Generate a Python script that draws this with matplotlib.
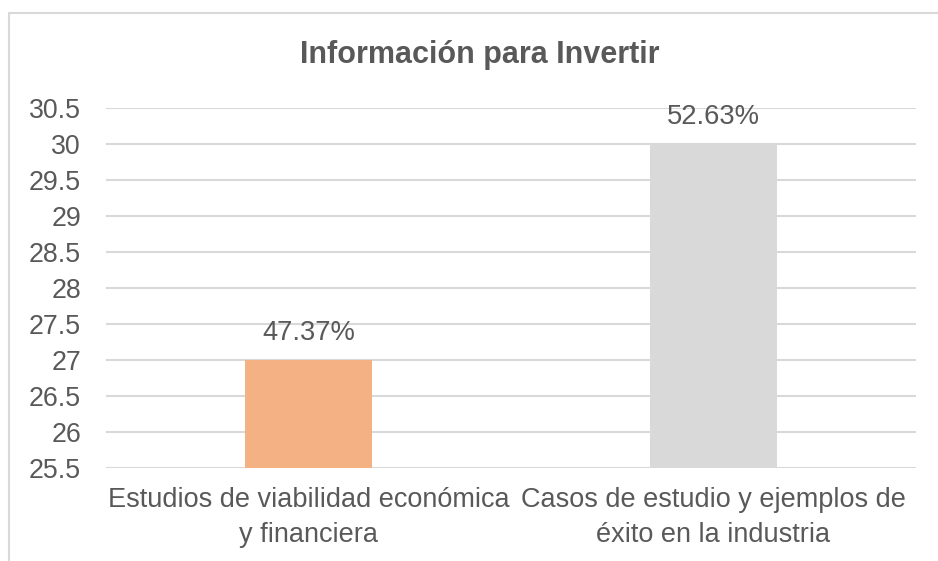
import matplotlib
matplotlib.use("Agg")
import matplotlib.pyplot as plt
from matplotlib.patches import Rectangle

categories = ["Estudios de viabilidad económica\ny financiera",
              "Casos de estudio y ejemplos de\néxito en la industria"]
values = [27, 30]
labels = ["47.37%", "52.63%"]
colors = ["#F4B183", "#D9D9D9"]
yticks = [25.5, 26, 26.5, 27, 27.5, 28, 28.5, 29, 29.5, 30, 30.5]
title = "Información para Invertir"

plt.rcParams['font.family'] = ['Liberation Sans', 'DejaVu Sans']
TXT = "#595959"

fig = plt.figure(figsize=(9.38, 5.61), dpi=100)
fig.patch.set_facecolor("white")
ax = fig.add_axes([106/938, 1-468/561, (916-106)/938, (468-108)/561])

x = list(range(len(categories)))
ax.bar(x, values, width=0.313, color=colors, zorder=3)
ax.set_xlim(-0.5, 1.5)
ax.set_ylim(25.5, 30.5)
ax.set_yticks(yticks)
ax.set_yticklabels([f"{t:g}" for t in yticks])
ax.set_xticks(x)
ax.set_xticklabels(categories, linespacing=1.45)
ax.grid(axis="y", color="#D9D9D9", linewidth=1.5, zorder=0)
for s in ax.spines.values():
    s.set_visible(False)
ax.tick_params(axis="y", length=0, pad=18, labelsize=19.3, labelcolor=TXT)
ax.tick_params(axis="x", length=0, pad=14, labelsize=19.5, labelcolor=TXT)

for xi, v, lab in zip(x, values, labels):
    ax.annotate(lab, (xi, v), xytext=(0, 10), textcoords="offset points",
                ha="center", va="bottom", fontsize=19.7, color=TXT, zorder=4)

fig.text(480/938, 1-55/561, title, ha="center", va="center", fontsize=22,
         fontweight="bold", color=TXT)

fig.patches.append(Rectangle((9/938, -0.05), 1.0, 1-12.5/561+0.05,
                             transform=fig.transFigure, fill=False,
                             edgecolor="#D9D9D9", linewidth=1.5))

fig.savefig("out.png", dpi=100)
